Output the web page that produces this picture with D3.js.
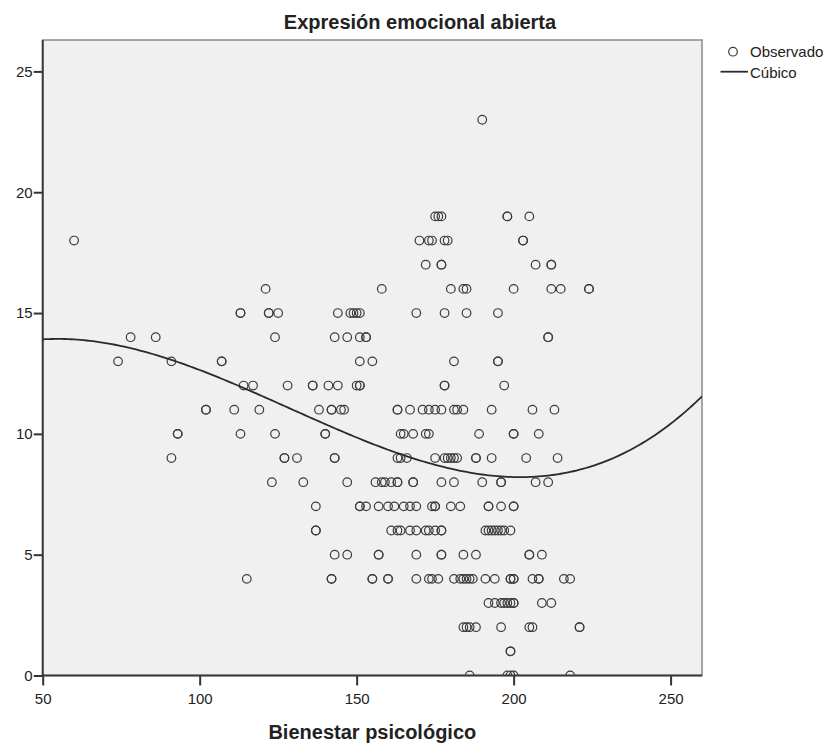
<!DOCTYPE html>
<html>
<head>
<meta charset="utf-8">
<script src="https://cdn.jsdelivr.net/npm/d3@7"></script>
<style>
	body { margin: 0; background: #fff; }
	text { font-family: "Liberation Sans", Arial, sans-serif; fill: #222; }
</style>
</head>
<body>
<div id="chart"></div>
<script>

// Expresión emocional abierta (y) observed at each level, with the Bienestar psicológico (x) values
var expresionLevels = [0, 1, 2, 3, 4, 5, 6, 7, 8, 9, 10, 11, 12, 13, 14, 15, 16, 17, 18, 19, 23];
var bienestarAtLevel = [
	[186, 198, 199, 200, 218],
	[199, 199],
	[184, 185, 186, 188, 196, 205, 206, 221, 221],
	[192, 194, 196, 197, 198, 199, 200, 200, 209, 212],
	[115, 142, 142, 155, 155, 160, 160, 169, 173, 174, 176, 181, 183, 184, 185, 186, 187, 191, 194, 199, 199, 200, 200, 206, 208, 208, 216, 218],
	[143, 147, 157, 157, 169, 177, 177, 184, 188, 205, 205, 209],
	[137, 137, 161, 163, 164, 167, 169, 172, 173, 175, 177, 177, 191, 192, 193, 194, 195, 196, 197, 199],
	[137, 151, 151, 153, 157, 160, 162, 165, 167, 169, 174, 175, 175, 180, 183, 192, 192, 196, 200, 200],
	[123, 133, 147, 156, 158, 159, 161, 163, 163, 168, 168, 177, 181, 190, 196, 196, 207, 211],
	[91, 127, 127, 131, 143, 143, 163, 164, 166, 175, 178, 179, 180, 181, 182, 188, 188, 193, 204, 214],
	[93, 93, 113, 124, 140, 140, 164, 165, 168, 172, 173, 189, 200, 200, 208],
	[102, 102, 111, 119, 138, 142, 142, 145, 146, 163, 163, 167, 171, 173, 175, 177, 181, 182, 184, 193, 206, 213],
	[114, 117, 128, 136, 136, 141, 144, 150, 151, 151, 178, 178, 197],
	[74, 91, 107, 107, 151, 155, 181, 195, 195],
	[78, 86, 124, 143, 147, 151, 153, 153, 211, 211],
	[113, 113, 122, 122, 125, 144, 148, 149, 150, 151, 169, 178, 185, 195],
	[121, 158, 180, 184, 185, 200, 212, 215, 224, 224],
	[172, 177, 177, 207, 212, 212],
	[60, 170, 173, 174, 178, 179, 203, 203],
	[175, 176, 177, 198, 198, 205],
	[190]
];

// points on the cubic fit line
var cubicX = [50, 74, 91, 117, 135, 163, 174, 200, 228, 260];
var cubicY = [13.9, 13.66, 13.06, 11.85, 10.58, 9.2, 8.72, 8.23, 8.85, 11.53];

var xTicks = [50, 100, 150, 200, 250];
var yTicks = [0, 5, 10, 15, 20, 25];

var width = 838;
var height = 751;
var plotLeft = 42.7, plotRight = 702, plotTop = 40, plotBottom = 675.5;

var points = [];
expresionLevels.forEach(function(y, i) {
	bienestarAtLevel[i].forEach(function(x) {
		points.push({x: x, y: y});
	});
});

// least squares cubic through the read points, so the line stays a smooth cubic
function fitCubic(xs, ys) {
	var c = 155, s = 100;
	var A = [[0, 0, 0, 0, 0], [0, 0, 0, 0, 0], [0, 0, 0, 0, 0], [0, 0, 0, 0, 0]];
	xs.forEach(function(x, k) {
		var u = (x - c) / s;
		var p = [1, u, u * u, u * u * u];
		for (var i = 0; i < 4; i++) {
			for (var j = 0; j < 4; j++) A[i][j] += p[i] * p[j];
			A[i][4] += p[i] * ys[k];
		}
	});
	for (var i = 0; i < 4; i++) {
		for (var r = i + 1; r < 4; r++) {
			var f = A[r][i] / A[i][i];
			for (var j = i; j < 5; j++) A[r][j] -= f * A[i][j];
		}
	}
	var b = [0, 0, 0, 0];
	for (var i = 3; i >= 0; i--) {
		var v = A[i][4];
		for (var j = i + 1; j < 4; j++) v -= A[i][j] * b[j];
		b[i] = v / A[i][i];
	}
	return function(x) {
		var u = (x - c) / s;
		return b[0] + b[1] * u + b[2] * u * u + b[3] * u * u * u;
	};
}

var cubic = fitCubic(cubicX, cubicY);

var svg = d3.select("#chart")
		.append("svg")
		.attr("width", width)
		.attr("height", height);

var xScale = d3.scaleLinear()
				.domain([50, 260])
				.range([plotLeft, plotRight]);

var yScale = d3.scaleLinear()
				.domain([0, 26.3])
				.range([plotBottom, plotTop]);

svg.append("rect")
	.attr("x", plotLeft)
	.attr("y", plotTop)
	.attr("width", plotRight - plotLeft)
	.attr("height", plotBottom - plotTop)
	.attr("fill", "#f0f0f0")
	.attr("stroke", "#8a8a8a")
	.attr("stroke-width", 1.5);

svg.append("clipPath")
	.attr("id", "plotclip")
	.append("rect")
	.attr("x", plotLeft)
	.attr("y", plotTop)
	.attr("width", plotRight - plotLeft)
	.attr("height", plotBottom - plotTop);

var xAxis = d3.axisBottom(xScale)
				.tickValues(xTicks)
				.tickSize(10)
				.tickSizeOuter(0)
				.tickPadding(8);

var yAxis = d3.axisLeft(yScale)
				.tickValues(yTicks)
				.tickSize(9)
				.tickSizeOuter(0)
				.tickPadding(1);

var xAxisHandle = svg.append("g")
	.attr("transform", "translate(0," + plotBottom + ")")
	.call(xAxis);

var yAxisHandle = svg.append("g")
	.attr("transform", "translate(" + plotLeft + ",0)")
	.call(yAxis);

[xAxisHandle, yAxisHandle].forEach(function(g) {
	g.select(".domain").remove();
	g.selectAll("line").attr("stroke", "#333").attr("stroke-width", 2);
	g.selectAll("text")
		.attr("font-size", 15)
		.attr("fill", "#222")
		.style("font-family", "'Liberation Sans', Arial, sans-serif");
});

// darker left and bottom axis lines
svg.append("line")
	.attr("x1", plotLeft).attr("x2", plotLeft)
	.attr("y1", plotTop).attr("y2", plotBottom + 1)
	.attr("stroke", "#3a3a3a")
	.attr("stroke-width", 2);

svg.append("line")
	.attr("x1", plotLeft - 1).attr("x2", plotRight)
	.attr("y1", plotBottom).attr("y2", plotBottom)
	.attr("stroke", "#3a3a3a")
	.attr("stroke-width", 2);

svg.append("g")
	.attr("clip-path", "url(#plotclip)")
	.selectAll("circle")
	.data(points)
	.enter()
	.append("circle")
	.attr("cx", function(d) { return xScale(d.x); })
	.attr("cy", function(d) { return yScale(d.y); })
	.attr("r", 4.3)
	.attr("fill", "none")
	.attr("stroke", "#3c3c3c")
	.attr("stroke-width", 1.2);

var cubicLine = d3.line()
	.x(function(d) { return xScale(d); })
	.y(function(d) { return yScale(cubic(d)); });

svg.append("path")
	.attr("clip-path", "url(#plotclip)")
	.attr("d", cubicLine(d3.range(50, 260.5, 1)))
	.attr("fill", "none")
	.attr("stroke", "#2a2a2a")
	.attr("stroke-width", 1.8);

svg.append("text")
	.attr("x", 420)
	.attr("y", 29)
	.attr("text-anchor", "middle")
	.attr("font-size", 20)
	.attr("font-weight", "bold")
	.text("Expresión emocional abierta");

svg.append("text")
	.attr("x", (plotLeft + plotRight) / 2)
	.attr("y", 739)
	.attr("text-anchor", "middle")
	.attr("font-size", 20)
	.attr("font-weight", "bold")
	.text("Bienestar psicológico");

// legend
var legend = svg.append("g");

legend.append("circle")
	.attr("cx", 733)
	.attr("cy", 51.7)
	.attr("r", 4.3)
	.attr("fill", "none")
	.attr("stroke", "#3c3c3c")
	.attr("stroke-width", 1.2);

legend.append("text")
	.attr("x", 750)
	.attr("y", 57)
	.attr("font-size", 15)
	.text("Observado");

legend.append("line")
	.attr("x1", 720.5)
	.attr("x2", 748)
	.attr("y1", 71.7)
	.attr("y2", 71.7)
	.attr("stroke", "#2a2a2a")
	.attr("stroke-width", 1.8);

legend.append("text")
	.attr("x", 750)
	.attr("y", 78)
	.attr("font-size", 15)
	.text("Cúbico");

</script>
</body>
</html>
